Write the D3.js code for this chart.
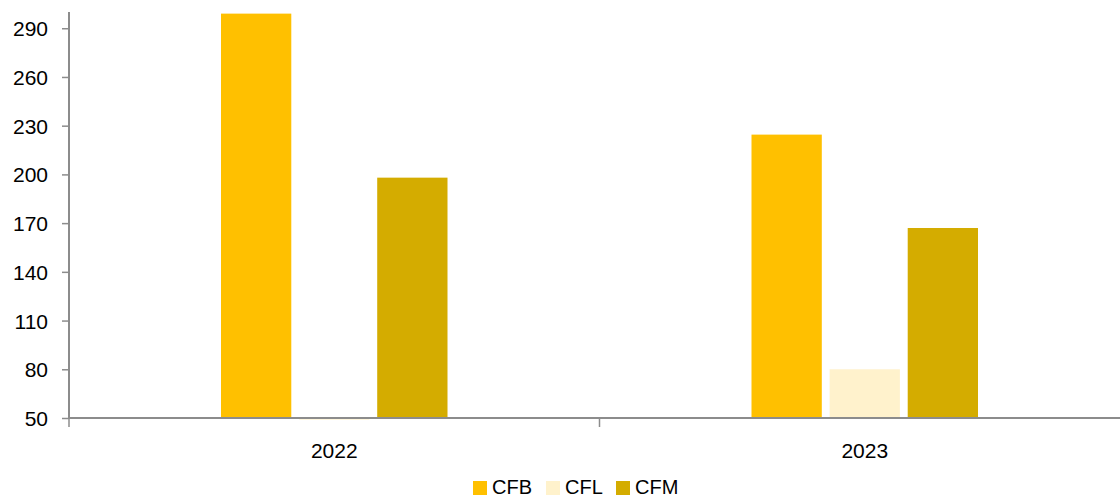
<!DOCTYPE html>
<html>
<head>
<meta charset="utf-8">
<script src="https://cdn.jsdelivr.net/npm/d3@7"></script>
<style>
  html, body { margin: 0; padding: 0; background: #fff; }
  svg { display: block; }
  text { font-family: "Liberation Sans", Arial, sans-serif; fill: #000; }
</style>
</head>
<body>
<svg id="chart" width="1120" height="497"></svg>
<script>
// Categories, series and values
const years = ["2022", "2023"];
const seriesNames = ["CFB", "CFL", "CFM"];
const cfb = [299, 224.5];
const cfl = [49, 80];
const cfm = [198, 167];
const yTicks = [50, 80, 110, 140, 170, 200, 230, 260, 290];
const seriesColors = ["#FFC000", "#FFF2CC", "#D4AC00"];

const valuesBySeries = { CFB: cfb, CFL: cfl, CFM: cfm };

const W = 1120, H = 497;
const plot = { left: 69, right: 1130, top: 12, bottom: 418 };

const svg = d3.select("#chart");

const y = d3.scaleLinear().domain([50, 300]).range([plot.bottom, plot.top]);
const x0 = d3.scaleBand().domain(years).range([plot.left, plot.right]);
const groupWidth = 226.5;
const x1 = d3.scaleBand().domain(seriesNames).range([0, groupWidth]).paddingInner(0.1);

svg.append("defs").append("clipPath").attr("id", "plotClip")
  .append("rect").attr("x", plot.left).attr("y", plot.top)
  .attr("width", W - plot.left).attr("height", plot.bottom - plot.top + 4);

// Bars (values under the axis minimum hang below the baseline)
const barsG = svg.append("g").attr("clip-path", "url(#plotClip)");
years.forEach((yr, i) => {
  const gx = x0(yr) + x0.bandwidth() / 2 - groupWidth / 2;
  seriesNames.forEach((s, j) => {
    const v = valuesBySeries[s][i];
    const base = 50;
    barsG.append("rect")
      .attr("x", gx + x1(s))
      .attr("y", y(Math.max(v, base)))
      .attr("width", x1.bandwidth())
      .attr("height", Math.abs(y(v) - y(base)))
      .attr("fill", seriesColors[j]);
  });
});

const axisColor = "#8c8c8c";

// Y axis
const yAxis = d3.axisLeft(y).tickValues(yTicks).tickSize(7).tickPadding(14).tickSizeOuter(0);
const yg = svg.append("g").attr("transform", `translate(${plot.left},0)`).call(yAxis);
yg.select(".domain").remove();
yg.selectAll(".tick line").attr("stroke", axisColor).attr("stroke-width", 1.5);
yg.selectAll(".tick text").style("font-size", "21px").attr("font-family", null).attr("dy", "0.36em");
svg.append("line")
  .attr("x1", plot.left).attr("x2", plot.left)
  .attr("y1", plot.top).attr("y2", plot.bottom + 1)
  .attr("stroke", axisColor).attr("stroke-width", 2);

// X axis
svg.append("line")
  .attr("x1", plot.left).attr("x2", W)
  .attr("y1", plot.bottom).attr("y2", plot.bottom)
  .attr("stroke", axisColor).attr("stroke-width", 2);
const xTickPositions = [plot.left, x0("2023"), plot.right];
svg.append("g").selectAll("line").data(xTickPositions).join("line")
  .attr("x1", d => d).attr("x2", d => d)
  .attr("y1", plot.bottom).attr("y2", plot.bottom + 9)
  .attr("stroke", axisColor).attr("stroke-width", 1.5);
svg.append("g").selectAll("text").data(years).join("text")
  .attr("x", d => x0(d) + x0.bandwidth() / 2)
  .attr("y", 458)
  .attr("text-anchor", "middle")
  .style("font-size", "21px")
  .text(d => d);

// Legend
const legendItems = [
  { name: "CFB", sx: 473 },
  { name: "CFL", sx: 546 },
  { name: "CFM", sx: 616 }
];
const lg = svg.append("g");
legendItems.forEach((it, j) => {
  lg.append("rect").attr("x", it.sx).attr("y", 481).attr("width", 14).attr("height", 14)
    .attr("fill", seriesColors[j]);
  lg.append("text").attr("x", it.sx + 19).attr("y", 494)
    .style("font-size", "20px").text(it.name);
});
</script>
</body>
</html>
